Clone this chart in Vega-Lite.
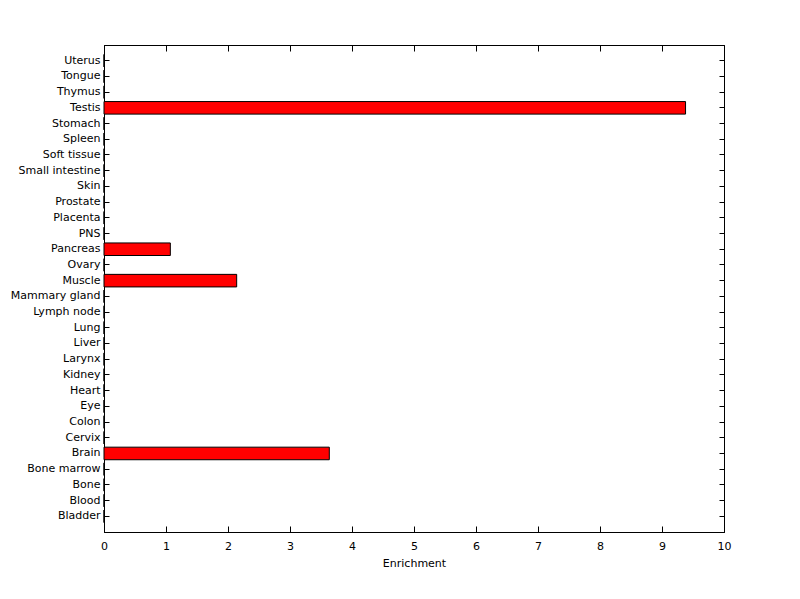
{
  "$schema": "https://vega.github.io/schema/vega-lite/v6.json",
  "autosize": "none",
  "width": 620,
  "height": 487,
  "padding": {"left": 104, "top": 45, "right": 76, "bottom": 67},
  "background": "white",
  "config": {
    "view": {"stroke": "black", "strokeWidth": 1},
    "font": "DejaVu Sans",
    "axis": {
      "grid": false,
      "domainColor": "black",
      "tickColor": "black",
      "labelColor": "black",
      "titleColor": "black",
      "labelFont": "DejaVu Sans",
      "titleFont": "DejaVu Sans",
      "labelFontSize": 11,
      "titleFontSize": 11,
      "titleFontWeight": "normal"
    }
  },
  "data": {
    "values": [
      {"tissue": "Uterus", "enrichment": 0},
      {"tissue": "Tongue", "enrichment": 0},
      {"tissue": "Thymus", "enrichment": 0},
      {"tissue": "Testis", "enrichment": 9.38},
      {"tissue": "Stomach", "enrichment": 0},
      {"tissue": "Spleen", "enrichment": 0},
      {"tissue": "Soft tissue", "enrichment": 0},
      {"tissue": "Small intestine", "enrichment": 0},
      {"tissue": "Skin", "enrichment": 0},
      {"tissue": "Prostate", "enrichment": 0},
      {"tissue": "Placenta", "enrichment": 0},
      {"tissue": "PNS", "enrichment": 0},
      {"tissue": "Pancreas", "enrichment": 1.07},
      {"tissue": "Ovary", "enrichment": 0},
      {"tissue": "Muscle", "enrichment": 2.14},
      {"tissue": "Mammary gland", "enrichment": 0},
      {"tissue": "Lymph node", "enrichment": 0},
      {"tissue": "Lung", "enrichment": 0},
      {"tissue": "Liver", "enrichment": 0},
      {"tissue": "Larynx", "enrichment": 0},
      {"tissue": "Kidney", "enrichment": 0},
      {"tissue": "Heart", "enrichment": 0},
      {"tissue": "Eye", "enrichment": 0},
      {"tissue": "Colon", "enrichment": 0},
      {"tissue": "Cervix", "enrichment": 0},
      {"tissue": "Brain", "enrichment": 3.634},
      {"tissue": "Bone marrow", "enrichment": 0},
      {"tissue": "Bone", "enrichment": 0},
      {"tissue": "Blood", "enrichment": 0},
      {"tissue": "Bladder", "enrichment": 0}
    ]
  },
  "layer": [
    {
      "mark": {"type": "bar", "color": "#ff0000", "stroke": "black", "strokeWidth": 1},
      "encoding": {
        "y": {
          "field": "tissue", "type": "nominal", "sort": null,
          "scale": {"paddingInner": 0.2, "paddingOuter": 0.6},
          "axis": {"orient": "left", "title": null, "tickSize": -5, "labelPadding": 9, "domain": true}
        },
        "x": {
          "field": "enrichment", "type": "quantitative",
          "scale": {"domain": [0, 10], "nice": false, "zero": true},
          "axis": {"orient": "bottom", "title": "Enrichment", "values": [0,1,2,3,4,5,6,7,8,9,10], "tickSize": -6, "labelPadding": 14, "titlePadding": 6, "labelFlush": false}
        }
      }
    },
    {
      "mark": {"type": "bar", "opacity": 0},
      "encoding": {
        "y": {
          "field": "tissue", "type": "nominal", "sort": null,
          "axis": {"orient": "right", "title": null, "labels": false, "tickSize": -5, "domain": true}
        },
        "x": {
          "field": "enrichment", "type": "quantitative",
          "axis": {"orient": "top", "title": null, "labels": false, "values": [0,1,2,3,4,5,6,7,8,9,10], "tickSize": -6, "domain": true}
        }
      }
    }
  ],
  "resolve": {"axis": {"x": "independent", "y": "independent"}}
}
